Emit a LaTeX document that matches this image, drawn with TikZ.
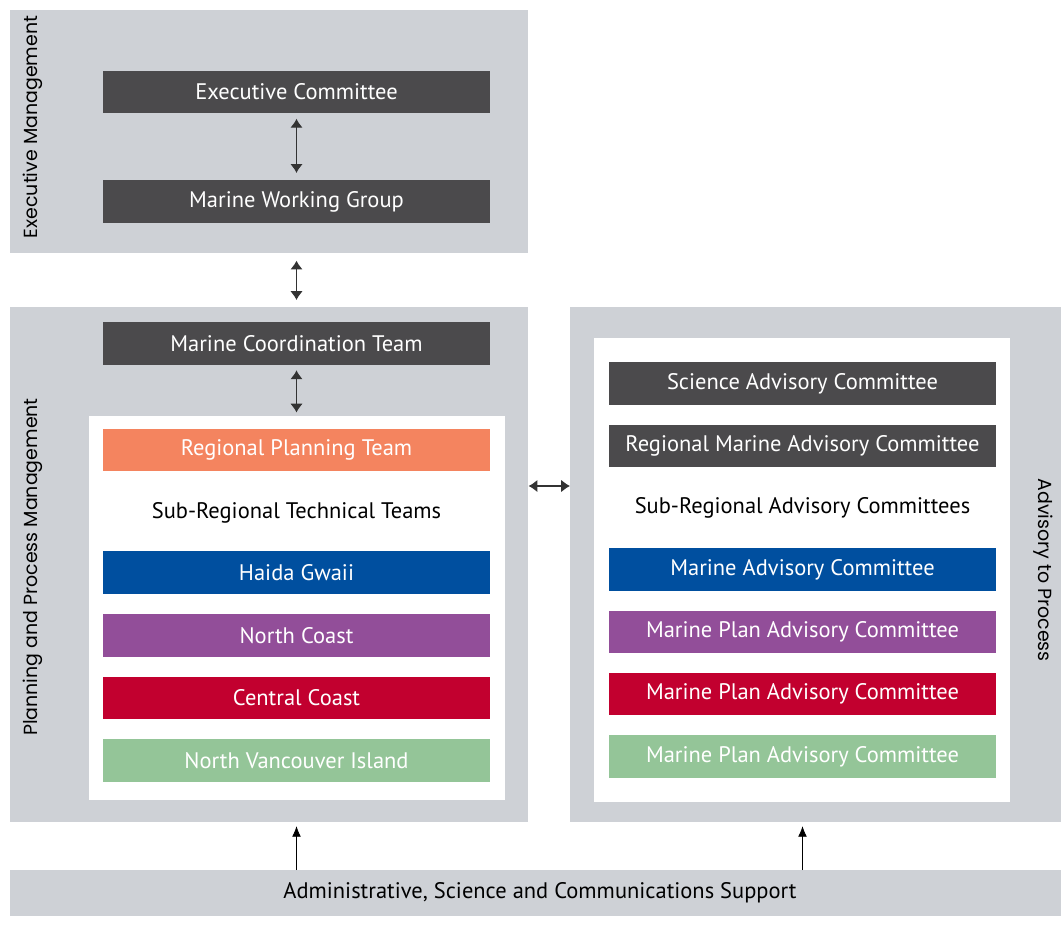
\documentclass[tikz,border=0pt]{standalone}
\usepackage{fontspec}
\setmainfont{PT Sans}
\newfontfamily\sidefont{Poppins}
\usepackage{tikz}
\usetikzlibrary{arrows.meta}

\definecolor{panelgray}{HTML}{CED1D6}
\definecolor{boxdark}{HTML}{4B4A4C}
\definecolor{rptorange}{HTML}{F4845F}
\definecolor{hgblue}{HTML}{004F9F}
\definecolor{ncpurple}{HTML}{924E99}
\definecolor{ccred}{HTML}{C2002F}
\definecolor{nvigreen}{HTML}{94C598}

\begin{document}
\begin{tikzpicture}[x=0.02cm,y=-0.02cm,
		panel/.style={fill=panelgray,inner sep=0,anchor=north west},
		inner/.style={fill=white,inner sep=0,anchor=north west},
		bar/.style={fill=#1,text=white,inner sep=0,minimum width=7.74cm,minimum height=0.85cm,
			font=\fontsize{12.8}{15}\selectfont},
		plain/.style={font=\fontsize{12.8}{15}\selectfont},
		side/.style={font=\sidefont\fontsize{10.8}{12}\selectfont},
		twoway/.style={{Latex[length=5pt,width=7pt]}-{Latex[length=5pt,width=7pt]},semithick,black!80},
		oneway/.style={-{Latex[length=6pt,width=5pt]},thin}]
	\useasboundingbox (0,0) rectangle (1061,924);
	% grey panels and white insets
	\node[panel,minimum width=10.36cm,minimum height=4.86cm] (execpanel) at (10,10) {};
	\node[panel,minimum width=10.36cm,minimum height=10.30cm] (planpanel) at (10,307) {};
	\node[panel,minimum width=9.82cm,minimum height=10.30cm] (advpanel) at (570,307) {};
	\node[inner,minimum width=8.32cm,minimum height=7.68cm] (planinner) at (89,416) {};
	\node[inner,minimum width=8.32cm,minimum height=9.28cm] (advinner) at (594,338) {};
	\node[panel,minimum width=21.02cm,minimum height=0.92cm] (support) at (10,870) {};
	\node[plain] at (540,893) {Administrative, Science and Communications Support};
	% side labels
	\node[side,rotate=90] at (33,127) {Executive Management};
	\node[side,rotate=90] at (33,567) {Planning and Process Management};
	\node[side,rotate=-90] at (1043,570) {Advisory to Process};
	% executive and planning side
	\node[bar=boxdark] (exec) at (296.5,92) {Executive Committee};
	\node[bar=boxdark] (mwg) at (296.5,201.5) {Marine Working Group};
	\node[bar=boxdark] (mct) at (296.5,343.5) {Marine Coordination Team};
	\node[bar=rptorange] (rpt) at (296.5,450) {Regional Planning Team};
	\node[plain] (srtt) at (296.5,513) {Sub-Regional Technical Teams};
	\node[bar=hgblue] (hg) at (296.5,572.5) {Haida Gwaii};
	\node[bar=ncpurple] (nc) at (296.5,635.5) {North Coast};
	\node[bar=ccred] (cc) at (296.5,698) {Central Coast};
	\node[bar=nvigreen] (nvi) at (296.5,760.5) {North Vancouver Island};
	% advisory side
	\node[bar=boxdark] (sac) at (802.5,383.5) {Science Advisory Committee};
	\node[bar=boxdark] (rmac) at (802.5,446) {Regional Marine Advisory Committee};
	\node[plain] (srac) at (802.5,508) {Sub-Regional Advisory Committees};
	\node[bar=hgblue] (mac) at (802.5,569.5) {Marine Advisory Committee};
	\node[bar=ncpurple] (mpac1) at (802.5,632) {Marine Plan Advisory Committee};
	\node[bar=ccred] (mpac2) at (802.5,694) {Marine Plan Advisory Committee};
	\node[bar=nvigreen] (mpac3) at (802.5,756.5) {Marine Plan Advisory Committee};
	% connectors
	\coordinate (link) at (549,486);
	\draw[twoway,shorten <=3pt,shorten >=4pt] (exec) -- (mwg);
	\draw[twoway,shorten <=4pt,shorten >=4pt] (mwg.south |- execpanel.south) -- (mct.north |- planpanel.north);
	\draw[twoway,shorten <=3pt,shorten >=2pt] (mct) -- (mct.south |- planinner.north);
	\draw[twoway] (planpanel.east |- link) -- (advpanel.west |- link);
	\draw[oneway,shorten >=2pt] (mct.south |- support.north) -- (mct.south |- planpanel.south);
	\draw[oneway,shorten >=2pt] (sac.south |- support.north) -- (sac.south |- advpanel.south);
\end{tikzpicture}
\end{document}
